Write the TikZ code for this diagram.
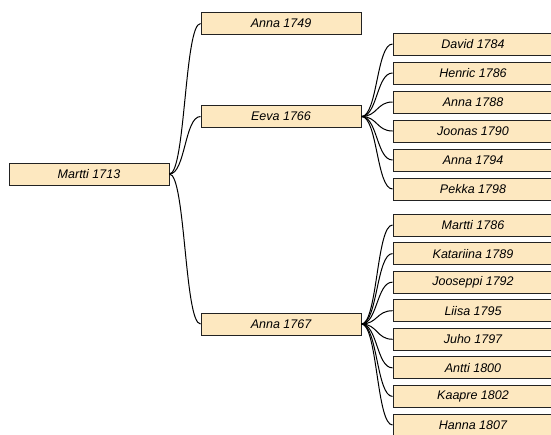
\documentclass[tikz,border=0pt]{standalone}
\usepackage{fontspec}
\setmainfont{Liberation Sans}
\usetikzlibrary{calc}
\definecolor{boxfill}{HTML}{FDE8C0}
\definecolor{boxline}{HTML}{222222}
\tikzset{
  person/.style={draw=boxline, line width=0.9pt, fill=boxfill, minimum width=160pt, minimum height=22pt, inner sep=0pt, font=\fontsize{12.5}{14}\selectfont\itshape},
  link/.style={draw=black, line width=1pt}
}
\newcommand{\lnk}[2]{\draw[link] (#1.east) .. controls ($(#1.east)+(16pt,0)$) and ($(#2.west)+(-16pt,0)$) .. (#2.west);}
\begin{document}
\begin{tikzpicture}[x=1pt,y=-1pt]
\useasboundingbox (0,0) rectangle (551,434);
\clip (0,0) rectangle (551,434);
\node[person] (m1713) at (89,174) {Martti 1713};
\node[person] (a1749) at (281,23.5) {Anna 1749};
\node[person] (e1766) at (281,116.5) {Eeva 1766};
\node[person] (a1767) at (281,324) {Anna 1767};
\node[person] (d1784) at (473,44) {David 1784};
\node[person] (h1786) at (473,73) {Henric 1786};
\node[person] (a1788) at (473,102) {Anna 1788};
\node[person] (j1790) at (473,131) {Joonas 1790};
\node[person] (a1794) at (473,160) {Anna 1794};
\node[person] (p1798) at (473,189) {Pekka 1798};
\node[person] (m1786) at (473,225) {Martti 1786};
\node[person] (k1789) at (473,253.57) {Katariina 1789};
\node[person] (j1792) at (473,282.14) {Jooseppi 1792};
\node[person] (l1795) at (473,310.71) {Liisa 1795};
\node[person] (j1797) at (473,339.29) {Juho 1797};
\node[person] (a1800) at (473,367.86) {Antti 1800};
\node[person] (k1802) at (473,396.43) {Kaapre 1802};
\node[person] (h1807) at (473,425) {Hanna 1807};
\lnk{m1713}{a1749}
\lnk{m1713}{e1766}
\lnk{m1713}{a1767}
\lnk{e1766}{d1784}
\lnk{e1766}{h1786}
\lnk{e1766}{a1788}
\lnk{e1766}{j1790}
\lnk{e1766}{a1794}
\lnk{e1766}{p1798}
\lnk{a1767}{m1786}
\lnk{a1767}{k1789}
\lnk{a1767}{j1792}
\lnk{a1767}{l1795}
\lnk{a1767}{j1797}
\lnk{a1767}{a1800}
\lnk{a1767}{k1802}
\lnk{a1767}{h1807}
\end{tikzpicture}
\end{document}
